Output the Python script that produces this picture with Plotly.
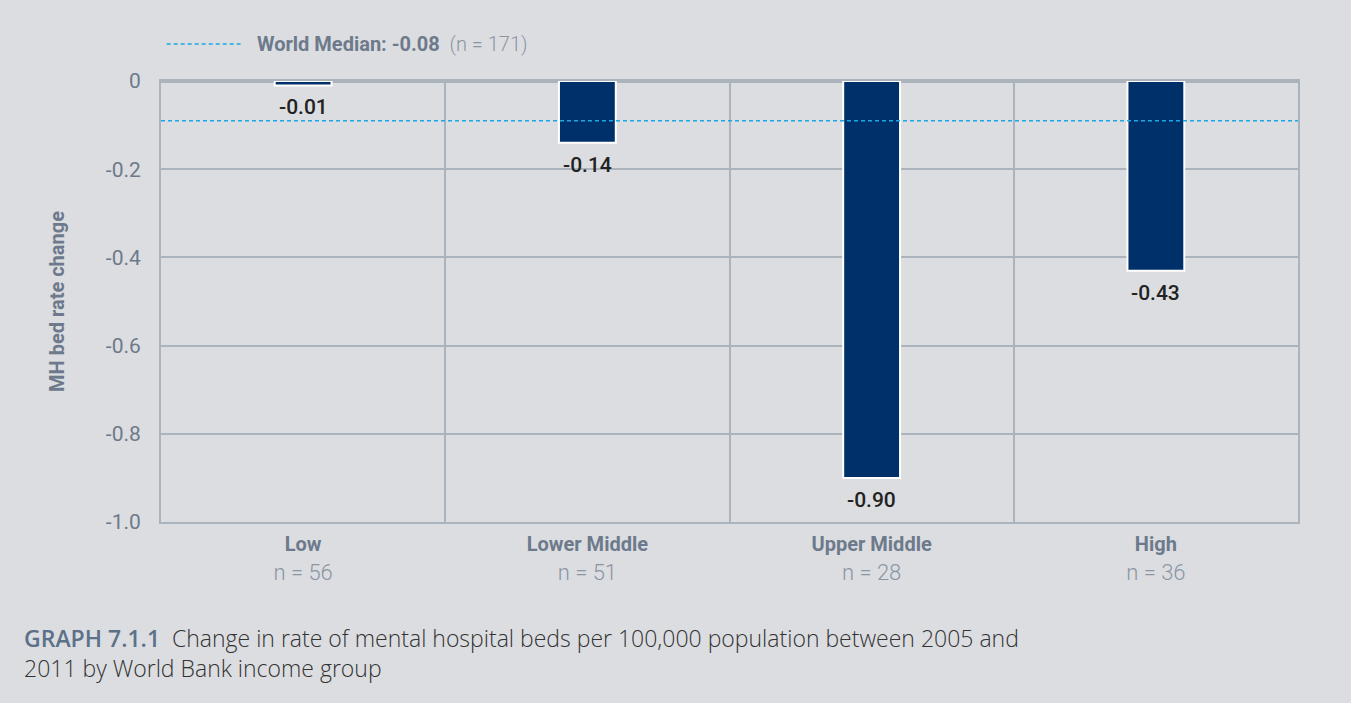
import plotly.graph_objects as go

# --- data -------------------------------------------------------------------
groups = ["Low", "Lower Middle", "Upper Middle", "High"]
group_n = [56, 51, 28, 36]
bed_rate_change = [-0.01, -0.14, -0.90, -0.43]
bar_labels = ["-0.01", "-0.14", "-0.90", "-0.43"]
y_ticks = [0, -0.2, -0.4, -0.6, -0.8, -1.0]
y_tick_labels = ["0", "-0.2", "-0.4", "-0.6", "-0.8", "-1.0"]
median_value = -0.09          # where the dotted line sits in the picture
median_label = "-0.08"
median_n = 171

BG = "#dcdde1"
GRID = "#abb3bc"
NAVY = "#00306a"
GREY_TXT = "#6c7a8b"
LIGHT_TXT = "#8b96a4"
CAPTION_BLUE = "#5b7189"
MEDIAN_BLUE = "#1aa7e6"
FONT = "Roboto, Liberation Sans, sans-serif"

tick_text = [
    f"<b style='font-size:20px'>{g}</b><br>"
    f"<span style='color:{LIGHT_TXT};font-weight:300'>n = {n}</span>"
    for g, n in zip(groups, group_n)
]

fig = go.Figure()
fig.add_bar(
    x=groups,
    y=bed_rate_change,
    width=0.2,
    marker=dict(color=NAVY, line=dict(color="white", width=2)),
    cliponaxis=False,
    showlegend=False,
)

# value labels under each bar
for g, v, lab in zip(groups, bed_rate_change, bar_labels):
    fig.add_annotation(
        x=g, y=v, text=lab, showarrow=False,
        yanchor="middle", yshift=-22,
        font=dict(family=FONT, size=21, color="#222222", weight=500),
    )

# dotted world median line
fig.add_shape(
    type="line", xref="paper", yref="y", x0=0, x1=1,
    y0=median_value, y1=median_value,
    line=dict(color=MEDIAN_BLUE, width=1.5, dash="4px,3px"),
)

# legend for the median line (top-left)
leg_y = 1.0 + 37 / 441
fig.add_shape(
    type="line", xref="paper", yref="paper", x0=0.005, x1=0.07,
    y0=leg_y, y1=leg_y,
    line=dict(color=MEDIAN_BLUE, width=1.5, dash="4px,3px"),
)
fig.add_annotation(
    xref="paper", yref="paper", x=0.083, y=leg_y,
    xanchor="left", yanchor="middle", showarrow=False,
    text=(f"<b>World Median: {median_label}</b>"
          f"<span style='color:{LIGHT_TXT};font-weight:300'>  (n = {median_n})</span>"),
    font=dict(family=FONT, size=20, color=GREY_TXT),
)

# caption
fig.add_annotation(
    xref="paper", yref="paper", x=-139 / 1137, y=-98 / 441,
    xanchor="left", yanchor="top", showarrow=False, align="left",
    text=(f"<span style='color:{CAPTION_BLUE};font-weight:600'>GRAPH 7.1.1</span>  "
          "Change in rate of mental hospital beds per 100,000 population between 2005 and"
          "<br>2011 by World Bank income group"),
    font=dict(family="Open Sans, Liberation Sans, sans-serif", size=23,
              color="#333333", weight=300),
)

fig.update_layout(
    width=1351, height=703,
    paper_bgcolor=BG, plot_bgcolor=BG,
    margin=dict(l=161, r=53, t=81, b=181),
    font=dict(family=FONT, color=GREY_TXT),
    bargap=0.8,
)
fig.update_xaxes(
    range=[-0.5, 3.5],
    tickson="boundaries",
    showgrid=True, gridcolor=GRID, gridwidth=1.5,
    showline=True, linecolor=GRID, linewidth=2, mirror=True,
    tickvals=groups, ticktext=tick_text,
    ticks="outside", ticklen=6, tickcolor="rgba(0,0,0,0)",
    ticklabelstandoff=1,
    tickfont=dict(family=FONT, size=22, color=GREY_TXT),
)
fig.update_yaxes(
    range=[-1.0, 0],
    tickvals=y_ticks, ticktext=y_tick_labels,
    showgrid=True, gridcolor=GRID, gridwidth=1.5,
    zeroline=True, zerolinecolor=GRID, zerolinewidth=3,
    showline=True, linecolor=GRID, linewidth=2, mirror=True,
    ticks="outside", ticklen=14, tickcolor="rgba(0,0,0,0)",
    tickfont=dict(family=FONT, size=21, color=GREY_TXT),
    title=dict(text="<b>MH bed rate change</b>", standoff=36,
               font=dict(family=FONT, size=20, color=GREY_TXT)),
)

fig.write_html(
    "out.html",
    config={"displayModeBar": False},
    post_script=(f"document.body.style.margin='0';"
                 f"document.body.style.background='{BG}';"),
)
